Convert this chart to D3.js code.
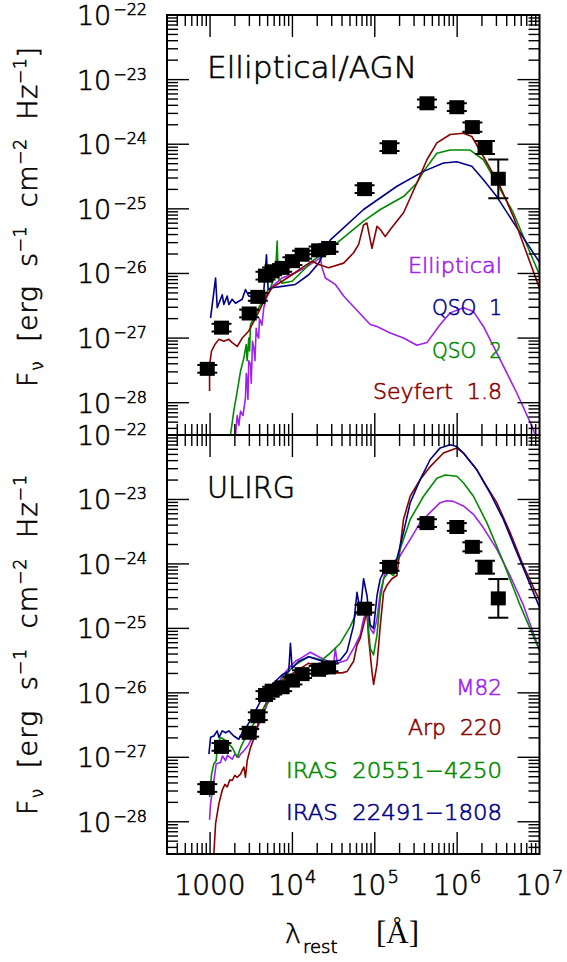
<!DOCTYPE html>
<html><head><meta charset="utf-8">
<script src="https://cdn.jsdelivr.net/npm/d3@7"></script>
<style>
html,body{margin:0;padding:0;background:#fff;}
svg{display:block;font-family:"DejaVu Sans",sans-serif;font-weight:200;}
.th{stroke-width:0.6px;}
</style></head><body>
<svg id="chart" width="567" height="962"></svg>
<script>
// ---------------- data ----------------
const xTickValues = [1000, 1e4, 1e5, 1e6, 1e7];
const xTickMain = ["1000", "10", "10", "10", "10"];
const xTickSup = ["", "4", "5", "6", "7"];
const yTickValues = [1e-22, 1e-23, 1e-24, 1e-25, 1e-26, 1e-27, 1e-28];
const yTickSup = ["\u221222", "\u221223", "\u221224", "\u221225", "\u221226", "\u221227", "\u221228"];

// photometry (lambda_rest [A], F_nu [erg/s/cm2/Hz], error in dex)
const photLambda = [925, 1377, 2985, 3800, 4710, 5675, 7500, 10000, 13100, 20800, 27500, 75200, 151000, 430000, 991000, 1.53e6, 2.18e6, 3.16e6];
const photFlux = [3.34e-28, 1.45e-27, 2.4e-27, 4.34e-27, 9.25e-27, 1.08e-26, 1.22e-26, 1.55e-26, 1.95e-26, 2.28e-26, 2.48e-26, 2.02e-25, 9.0e-25, 4.3e-24, 3.74e-24, 1.84e-24, 8.9e-25, 2.92e-25];
const photErrDex = [0.06, 0.06, 0.06, 0.06, 0.06, 0.06, 0.06, 0.06, 0.06, 0.06, 0.06, 0.06, 0.06, 0.06, 0.06, 0.07, 0.1, 0.3];

// template SEDs: [log10 lambda, log10 F_nu]
const ellipticalLog = [[3.309,-28.5],[3.33,-28.2],[3.35,-28.35],[3.370,-28.13],[3.40,-28.2],[3.430,-27.92],[3.440,-27.55],[3.451,-27.67],[3.46,-27.95],[3.47,-27.35],[3.491,-27.41],[3.50,-27.7],[3.515,-27.05],[3.531,-27.15],[3.545,-27.35],[3.56,-26.85],[3.572,-26.95],[3.59,-27.0],[3.60,-26.7],[3.612,-26.74],[3.63,-26.8],[3.652,-26.53],[3.693,-26.35],[3.754,-26.20],[3.875,-26.07],[4.036,-25.99],[4.158,-25.91],[4.279,-25.81],[4.339,-25.76],[4.360,-25.91],[4.400,-26.07],[4.521,-26.17],[4.622,-26.35],[4.703,-26.46],[4.945,-26.79],[5.027,-26.82],[5.188,-26.92],[5.349,-27.00],[5.511,-27.11],[5.633,-27.07],[5.794,-26.79],[5.915,-26.61],[6.076,-26.53],[6.198,-26.59],[6.319,-26.82],[6.521,-27.33],[6.724,-27.85],[6.925,-28.41],[6.96,-28.55]];
const qso1Log = [[3.006,-26.69],[3.067,-26.07],[3.087,-26.53],[3.148,-26.33],[3.167,-26.48],[3.208,-26.35],[3.228,-26.48],[3.269,-26.40],[3.309,-26.46],[3.390,-26.40],[3.430,-26.25],[3.470,-26.35],[3.572,-26.35],[3.652,-26.28],[3.685,-25.71],[3.705,-26.25],[3.754,-26.22],[3.875,-26.20],[4.036,-26.17],[4.198,-26.02],[4.319,-25.84],[4.461,-25.48],[4.864,-25.01],[5.269,-24.65],[5.592,-24.42],[5.834,-24.29],[5.996,-24.27],[6.178,-24.34],[6.319,-24.55],[6.481,-24.81],[6.663,-25.17],[7.006,-25.84]];
const qso2Log = [[3.248,-28.5],[3.288,-28.13],[3.330,-27.82],[3.370,-27.51],[3.410,-27.31],[3.439,-27.10],[3.45,-27.35],[3.470,-27.00],[3.48,-27.2],[3.491,-26.79],[3.531,-26.69],[3.592,-26.53],[3.652,-26.40],[3.693,-26.28],[3.733,-26.22],[3.794,-26.02],[3.815,-25.50],[3.827,-26.07],[3.875,-26.15],[3.996,-26.12],[4.118,-25.97],[4.239,-25.81],[4.461,-25.61],[4.864,-25.19],[5.067,-25.01],[5.349,-24.81],[5.511,-24.60],[5.592,-24.42],[5.754,-24.14],[5.915,-24.09],[6.158,-24.09],[6.319,-24.24],[6.481,-24.60],[6.682,-25.06],[7.006,-26.04]];
const seyfertLog = [[2.994,-27.82],[2.994,-27.41],[3.018,-27.20],[3.058,-27.10],[3.107,-27.02],[3.167,-27.05],[3.228,-27.02],[3.269,-27.07],[3.330,-27.13],[3.390,-27.00],[3.470,-26.89],[3.531,-26.74],[3.592,-26.59],[3.673,-26.38],[3.754,-26.22],[3.875,-26.12],[3.996,-26.02],[4.118,-25.91],[4.239,-25.81],[4.319,-25.86],[4.440,-25.91],[4.622,-25.84],[4.743,-25.68],[4.804,-25.55],[4.864,-25.25],[4.905,-25.22],[4.945,-25.48],[4.966,-25.61],[5.027,-25.27],[5.067,-25.32],[5.127,-25.43],[5.188,-25.32],[5.349,-25.06],[5.511,-24.60],[5.633,-24.24],[5.754,-23.98],[5.915,-23.85],[6.076,-23.83],[6.178,-23.88],[6.319,-24.19],[6.521,-24.65],[6.682,-25.12],[7.006,-26.25]];

const m82Log = [[2.994,-27.97],[3.006,-27.72],[3.046,-27.36],[3.075,-27.10],[3.127,-27.08],[3.15,-26.98],[3.188,-27.05],[3.21,-26.97],[3.269,-27.03],[3.30,-26.95],[3.349,-27.00],[3.370,-26.95],[3.410,-26.90],[3.470,-26.80],[3.511,-26.69],[3.572,-26.54],[3.633,-26.38],[3.693,-26.18],[3.794,-25.95],[3.875,-25.74],[3.955,-25.62],[4.036,-25.51],[4.118,-25.45],[4.218,-25.37],[4.319,-25.44],[4.400,-25.49],[4.501,-25.54],[4.521,-25.31],[4.545,-25.54],[4.663,-25.49],[4.764,-25.26],[4.824,-25.10],[4.864,-24.85],[4.905,-24.74],[4.945,-25.00],[4.985,-25.08],[5.027,-24.85],[5.067,-24.44],[5.127,-24.13],[5.228,-24.08],[5.309,-23.87],[5.430,-23.62],[5.552,-23.36],[5.673,-23.20],[5.794,-23.05],[5.875,-23.02],[5.955,-23.03],[6.076,-23.10],[6.198,-23.23],[6.319,-23.44],[6.481,-23.77],[6.642,-24.18],[6.804,-24.64],[7.006,-25.36]];
const arp220Log = [[3.046,-28.5],[3.067,-28.03],[3.107,-27.72],[3.148,-27.51],[3.18,-27.42],[3.208,-27.46],[3.24,-27.35],[3.269,-27.36],[3.30,-27.28],[3.330,-27.31],[3.370,-27.26],[3.410,-27.15],[3.430,-27.31],[3.451,-27.05],[3.491,-26.85],[3.552,-26.64],[3.592,-26.44],[3.633,-26.28],[3.693,-26.13],[3.794,-25.95],[3.915,-25.77],[4.036,-25.67],[4.198,-25.54],[4.360,-25.62],[4.481,-25.69],[4.602,-25.69],[4.663,-25.67],[4.743,-25.51],[4.784,-25.26],[4.824,-25.15],[4.864,-24.95],[4.905,-24.74],[4.925,-25.15],[4.966,-25.67],[4.986,-25.87],[5.027,-25.56],[5.067,-24.95],[5.107,-24.44],[5.148,-24.33],[5.208,-24.23],[5.269,-24.18],[5.309,-23.72],[5.349,-23.31],[5.430,-22.95],[5.552,-22.69],[5.673,-22.49],[5.834,-22.28],[5.996,-22.20],[6.076,-22.28],[6.239,-22.54],[6.360,-22.80],[6.481,-23.05],[6.642,-23.51],[6.804,-24.03],[7.006,-24.58]];
const iras20551Log = [[2.994,-27.62],[3.018,-27.26],[3.046,-27.10],[3.075,-27.05],[3.087,-26.80],[3.127,-26.69],[3.188,-26.74],[3.269,-26.85],[3.330,-27.00],[3.370,-26.85],[3.430,-26.69],[3.470,-26.59],[3.552,-26.44],[3.633,-26.28],[3.733,-26.08],[3.834,-25.87],[3.915,-25.72],[4.036,-25.56],[4.198,-25.44],[4.360,-25.49],[4.461,-25.38],[4.582,-25.23],[4.703,-24.97],[4.784,-24.74],[4.864,-24.64],[4.905,-24.74],[4.945,-25.31],[4.985,-25.41],[5.027,-25.10],[5.067,-24.54],[5.107,-24.23],[5.167,-24.13],[5.228,-24.18],[5.309,-23.77],[5.430,-23.31],[5.592,-22.95],[5.754,-22.67],[5.855,-22.62],[5.996,-22.64],[6.076,-22.74],[6.198,-22.95],[6.360,-23.36],[6.561,-23.97],[6.764,-24.64],[7.006,-25.36]];
const iras22491Log = [[2.986,-26.95],[3.006,-26.69],[3.046,-26.67],[3.087,-26.59],[3.107,-26.69],[3.148,-26.59],[3.188,-26.62],[3.228,-26.59],[3.288,-26.67],[3.349,-26.72],[3.390,-26.62],[3.451,-26.51],[3.511,-26.38],[3.572,-26.23],[3.633,-26.08],[3.693,-25.95],[3.794,-25.82],[3.875,-25.72],[3.955,-25.67],[3.976,-25.23],[3.996,-25.62],[4.077,-25.51],[4.198,-25.44],[4.319,-25.49],[4.440,-25.54],[4.582,-25.49],[4.663,-25.36],[4.743,-24.95],[4.784,-24.44],[4.824,-24.74],[4.864,-24.23],[4.905,-24.49],[4.945,-24.95],[4.985,-25.00],[5.027,-24.49],[5.067,-24.23],[5.107,-24.13],[5.188,-24.05],[5.269,-23.92],[5.349,-23.51],[5.430,-23.05],[5.552,-22.69],[5.673,-22.38],[5.794,-22.20],[5.915,-22.15],[5.996,-22.18],[6.076,-22.28],[6.239,-22.54],[6.400,-22.90],[6.561,-23.31],[6.724,-23.82],[7.006,-24.69]];

const topSeries = [
  {name:"Elliptical", data: ellipticalLog, color:"#a020f0"},
  {name:"QSO  1", data: qso1Log, color:"#00008b"},
  {name:"QSO  2", data: qso2Log, color:"#008b00"},
  {name:"Seyfert  1.8", data: seyfertLog, color:"#8b0000"}
];
const bottomSeries = [
  {name:"M82", data: m82Log, color:"#a020f0"},
  {name:"Arp  220", data: arp220Log, color:"#8b0000"},
  {name:"IRAS  20551\u22124250", data: iras20551Log, color:"#008b00"},
  {name:"IRAS  22491\u22121808", data: iras22491Log, color:"#00008b"}
];
const topDrawOrder = [0, 2, 1, 3];
const bottomDrawOrder = [0, 1, 2, 3];

// ---------------- layout ----------------
const svg = d3.select("#chart");
const L = 167, R = 539.5;
const panels = [
  {top: 15, bottom: 435, title: "Elliptical/AGN", titleLen: 210, series: topSeries, order: topDrawOrder,
   legendY: [273, 315, 358, 399], legendLen: [94, 70, 70, 129], ylabelEnd: "]", ylabelCenter: 217},
  {top: 435, bottom: 854, title: "ULIRG", titleLen: 88, series: bottomSeries, order: bottomDrawOrder,
   legendY: [695, 735, 778, 820], legendLen: [46, 94, 216, 216], ylabelEnd: "", ylabelCenter: 645}
];
const x = d3.scaleLog().domain([300, 1e7]).range([L, R]);

panels.forEach((p, pi) => {
  const y = d3.scaleLog().domain([Math.pow(10, -28.5), 1e-22]).range([p.bottom, p.top]);
  const g = svg.append("g");
  const clipId = "clip" + pi;
  svg.append("clipPath").attr("id", clipId).append("rect")
    .attr("x", L).attr("y", p.top).attr("width", R - L).attr("height", p.bottom - p.top);

  const line = d3.line().x(d => x(Math.pow(10, d[0]))).y(d => y(Math.pow(10, d[1])));
  const cg = g.append("g").attr("clip-path", `url(#${clipId})`);
  p.order.forEach(i => {
    const s = p.series[i];
    cg.append("path").attr("d", line(s.data)).attr("fill", "none")
      .attr("stroke", s.color).attr("stroke-width", 1.6).attr("stroke-linejoin", "round");
  });

  // photometry
  const pts = photLambda.map((l, i) => ({l, f: photFlux[i], e: photErrDex[i]}));
  const pg = cg.append("g");
  pts.forEach(d => {
    const cx = x(d.l), cy = y(d.f);
    const yHi = y(d.f * Math.pow(10, d.e)), yLo = y(d.f / Math.pow(10, d.e));
    pg.append("line").attr("x1", cx).attr("x2", cx).attr("y1", yHi).attr("y2", yLo)
      .attr("stroke", "#000").attr("stroke-width", 2);
    [yHi, yLo].forEach(yy => pg.append("line").attr("x1", cx - 10).attr("x2", cx + 10)
      .attr("y1", yy).attr("y2", yy).attr("stroke", "#000").attr("stroke-width", 2));
    pg.append("rect").attr("x", cx - 7.5).attr("y", cy - 7).attr("width", 15).attr("height", 14).attr("fill", "#000");
  });

  // ticks
  const tg = g.append("g").attr("stroke", "#000").attr("stroke-width", 1.4);
  const MAJ = 22, MIN = 11;
  for (let k = 2; k <= 6; k++) {
    for (let m = 1; m <= 9; m++) {
      const v = m * Math.pow(10, k);
      if (v < 300 || v > 1e7) continue;
      const len = m === 1 ? MAJ : MIN;
      const xx = x(v);
      tg.append("line").attr("x1", xx).attr("x2", xx).attr("y1", p.bottom).attr("y2", p.bottom - len);
      tg.append("line").attr("x1", xx).attr("x2", xx).attr("y1", p.top).attr("y2", p.top + len);
    }
  }
  for (let k = -29; k <= -23; k++) {
    for (let m = 1; m <= 9; m++) {
      const v = m * Math.pow(10, k);
      if (v < Math.pow(10, -28.5) || v >= 1e-22) continue;
      const len = m === 1 ? MAJ : MIN;
      const yy = y(v);
      tg.append("line").attr("x1", L).attr("x2", L + len).attr("y1", yy).attr("y2", yy);
      tg.append("line").attr("x1", R).attr("x2", R - len).attr("y1", yy).attr("y2", yy);
    }
  }
  g.append("rect").attr("x", L).attr("y", p.top).attr("width", R - L).attr("height", p.bottom - p.top)
    .attr("fill", "none").attr("stroke", "#000").attr("stroke-width", 2);

  // y tick labels
  yTickValues.forEach((v, i) => {
    const t = g.append("text").attr("class", "th").attr("x", 147).attr("y", y(v) + 10).attr("text-anchor", "end")
      .attr("font-size", 27).attr("fill", "#000").attr("stroke", "#000");
    t.append("tspan").text("10");
    t.append("tspan").attr("font-size", 16).attr("dy", -10).attr("dx", 2).text(yTickSup[i]);
  });

  // panel title
  g.append("text").attr("class", "th").attr("x", 207).attr("y", p.top + 63).attr("font-size", 30)
    .attr("stroke", "#000")
    .attr("textLength", p.titleLen).attr("lengthAdjust", "spacingAndGlyphs").text(p.title);

  // legend
  p.series.forEach((s, i) => {
    g.append("text").attr("class", "th").attr("x", 502).attr("y", p.legendY[i]).attr("text-anchor", "end")
      .attr("font-size", 22).attr("fill", s.color).attr("stroke", s.color).style("white-space", "pre")
      .attr("textLength", p.legendLen[i]).attr("lengthAdjust", "spacingAndGlyphs").text(s.name);
  });

  // y-axis title
  const yt = svg.append("text").attr("class", "th").attr("transform", `translate(37,${p.ylabelCenter}) rotate(-90)`)
    .attr("text-anchor", "middle").attr("font-size", 27).attr("stroke", "#000").style("white-space", "pre")
    .attr("textLength", 340).attr("lengthAdjust", "spacing");
  yt.append("tspan").text("F");
  yt.append("tspan").attr("font-size", 17).attr("dy", 6).text("\u03bd");
  yt.append("tspan").attr("dy", -6).text("  [erg  s");
  yt.append("tspan").attr("font-size", 17).attr("dy", -11).text("\u22121");
  yt.append("tspan").attr("dy", 11).text("  cm");
  yt.append("tspan").attr("font-size", 17).attr("dy", -11).text("\u22122");
  yt.append("tspan").attr("dy", 11).text("  Hz");
  yt.append("tspan").attr("font-size", 17).attr("dy", -11).text("\u22121");
  if (p.ylabelEnd) yt.append("tspan").attr("dy", 11).text(p.ylabelEnd);
});

// x tick labels
xTickValues.forEach((v, i) => {
  const t = svg.append("text").attr("class", "th").attr("x", x(v)).attr("y", 895).attr("text-anchor", "middle")
    .attr("font-size", 28).attr("fill", "#000").attr("stroke", "#000");
  t.append("tspan").text(xTickMain[i]);
  if (xTickSup[i]) t.append("tspan").attr("font-size", 18).attr("dy", -12).attr("dx", 1).text(xTickSup[i]);
});

// x axis title
svg.append("text").attr("class", "th").attr("x", 285).attr("y", 943).attr("font-size", 27).attr("stroke", "#000").text("\u03bb");
svg.append("text").attr("class", "th").attr("x", 303).attr("y", 953).attr("font-size", 18).attr("stroke", "#000").text("rest");
svg.append("text").attr("x", 376).attr("y", 943).attr("font-size", 31).attr("font-weight", 400)
  .attr("font-family", "'Liberation Serif','Times New Roman',serif").text("[\u00c5]");
</script>
</body></html>
